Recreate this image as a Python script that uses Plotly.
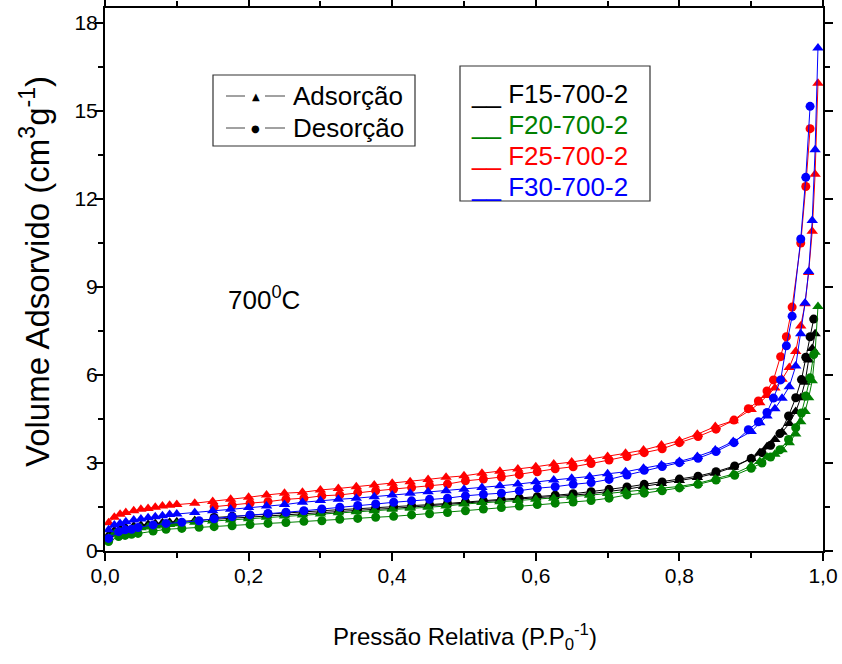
import plotly.graph_objects as go

# ---------------- data ----------------
ads_x = [0.005, 0.013, 0.021, 0.029, 0.04, 0.05, 0.06, 0.07, 0.08, 0.09, 0.1,
         0.125, 0.15, 0.175, 0.2, 0.225, 0.25, 0.275, 0.3, 0.325, 0.35,
         0.375, 0.4, 0.425, 0.45, 0.475, 0.5, 0.525, 0.55, 0.575, 0.6,
         0.625, 0.65, 0.675, 0.7, 0.725, 0.75, 0.775, 0.8, 0.825, 0.85, 0.875,
         0.9, 0.912, 0.922, 0.933, 0.943, 0.953, 0.962, 0.969, 0.975, 0.98, 0.985, 0.989, 0.993]

des_x_rb = [0.982, 0.976, 0.969, 0.957, 0.949, 0.941, 0.931, 0.922, 0.91, 0.896, 0.876, 0.851,
            0.826, 0.8, 0.776, 0.751, 0.727, 0.702, 0.677, 0.652, 0.627, 0.602, 0.577, 0.552,
            0.527, 0.502, 0.477, 0.452, 0.427, 0.402, 0.377, 0.352, 0.327, 0.302, 0.277, 0.252,
            0.227, 0.202, 0.177, 0.152, 0.131, 0.107, 0.085, 0.067, 0.046, 0.037, 0.028, 0.019, 0.005]

des_x_kg = [0.987, 0.982, 0.976, 0.97, 0.962, 0.952, 0.94, 0.927, 0.915, 0.9, 0.877, 0.851,
            0.826, 0.8, 0.776, 0.751, 0.727, 0.702, 0.677, 0.652, 0.627, 0.602, 0.577, 0.552,
            0.527, 0.502, 0.477, 0.452, 0.427, 0.402, 0.377, 0.352, 0.327, 0.302, 0.277, 0.252,
            0.227, 0.202, 0.177, 0.152, 0.131, 0.107, 0.085, 0.067, 0.046, 0.037, 0.028, 0.019, 0.005]

f15_ads = [0.55, 0.7, 0.76, 0.8, 0.85, 0.88, 0.91, 0.94, 0.96, 0.98, 1.0,
           1.04, 1.08, 1.12, 1.16, 1.2, 1.24, 1.28, 1.31, 1.35, 1.38,
           1.42, 1.45, 1.49, 1.53, 1.58, 1.63, 1.68, 1.72, 1.76, 1.81,
           1.86, 1.9, 1.95, 2.02, 2.1, 2.2, 2.3, 2.4, 2.5, 2.65, 2.85,
           3.15, 3.35, 3.55, 3.8, 4.05, 4.34, 4.75, 5.22, 5.75, 6.51, 6.9, 7.4]
f15_des = [7.9, 7.3, 6.6, 5.84, 5.22, 4.6, 4.0, 3.6, 3.35, 3.15, 2.9, 2.7,
           2.55, 2.45, 2.35, 2.27, 2.18, 2.1, 2.02, 1.95, 1.9, 1.85, 1.8, 1.75,
           1.71, 1.67, 1.62, 1.58, 1.54, 1.5, 1.47, 1.44, 1.41, 1.37, 1.34, 1.3,
           1.26, 1.22, 1.18, 1.14]

f20_ads = [0.45, 0.6, 0.66, 0.7, 0.75, 0.79, 0.82, 0.85, 0.88, 0.9, 0.93,
           0.98, 1.02, 1.06, 1.1, 1.15, 1.19, 1.23, 1.26, 1.3, 1.34,
           1.37, 1.42, 1.46, 1.49, 1.53, 1.6, 1.65, 1.68, 1.72, 1.76,
           1.8, 1.84, 1.9, 1.96, 2.02, 2.08, 2.13, 2.2, 2.3, 2.45, 2.62,
           2.9, 3.05, 3.2, 3.3, 3.45, 3.69, 3.99, 4.4, 4.75, 5.22, 5.8, 6.77, 8.33]
f20_des = [6.69, 5.9, 5.28, 4.7, 4.2, 3.8, 3.45, 3.2, 3.0, 2.82, 2.58, 2.42,
           2.27, 2.15, 2.05, 1.97, 1.91, 1.8, 1.72, 1.67, 1.63, 1.58, 1.53, 1.48,
           1.43, 1.37, 1.31, 1.27, 1.23, 1.18, 1.15, 1.11, 1.08, 1.03, 1.01, 0.97,
           0.94, 0.9, 0.86, 0.83, 0.81, 0.77, 0.74, 0.68, 0.6, 0.57, 0.53, 0.49, 0.32]

f25_ads = [0.96, 1.15, 1.25, 1.31, 1.37, 1.42, 1.45, 1.49, 1.53, 1.56, 1.58,
           1.63, 1.69, 1.76, 1.83, 1.91, 1.97, 2.0, 2.08, 2.13, 2.19,
           2.25, 2.31, 2.36, 2.44, 2.51, 2.56, 2.65, 2.72, 2.79, 2.87,
           2.96, 3.03, 3.13, 3.22, 3.33, 3.44, 3.61, 3.76, 3.98, 4.24, 4.44,
           4.82, 5.05, 5.3, 5.55, 5.85, 6.25, 6.8, 7.67, 8.42, 9.49, 10.89, 12.84, 15.94]
f25_des = [14.39, 12.42, 10.49, 8.31, 7.3, 6.62, 5.83, 5.45, 5.11, 4.85, 4.46, 4.15,
           3.9, 3.69, 3.48, 3.35, 3.22, 3.1, 2.98, 2.87, 2.8, 2.7, 2.6, 2.52,
           2.45, 2.39, 2.28, 2.23, 2.16, 2.11, 2.05, 1.99, 1.91, 1.88, 1.8, 1.76,
           1.68, 1.63, 1.56, 1.51]

f30_ads = [0.72, 0.89, 0.94, 1.0, 1.06, 1.09, 1.13, 1.17, 1.2, 1.24, 1.26,
           1.31, 1.37, 1.42, 1.48, 1.53, 1.58, 1.66, 1.72, 1.76, 1.8,
           1.85, 1.91, 1.97, 2.02, 2.05, 2.1, 2.16, 2.22, 2.28, 2.36,
           2.42, 2.48, 2.54, 2.63, 2.7, 2.82, 2.93, 3.05, 3.22, 3.44, 3.73,
           4.07, 4.37, 4.6, 4.85, 5.2, 5.6, 6.3, 7.4, 8.45, 9.52, 11.26, 13.67, 17.14]
f30_des = [15.15, 12.73, 10.63, 8.0, 6.99, 5.83, 5.21, 4.72, 4.4, 4.13, 3.69, 3.39,
           3.16, 3.01, 2.88, 2.75, 2.59, 2.44, 2.33, 2.27, 2.19, 2.14, 2.05, 1.97,
           1.93, 1.88, 1.8, 1.76, 1.71, 1.66, 1.6, 1.55, 1.49, 1.43, 1.37, 1.32,
           1.28, 1.23, 1.17, 1.1, 1.03, 0.98, 0.94, 0.89, 0.8, 0.74, 0.72, 0.66, 0.43]

series_names = ["F15-700-2", "F20-700-2", "F25-700-2", "F30-700-2"]
series_colors = ["#000000", "#008000", "#FF0000", "#0000FF"]
ads_values = [f15_ads, f20_ads, f25_ads, f30_ads]
des_xs = [des_x_kg, des_x_kg, des_x_rb, des_x_rb]
des_values = [f15_des, f20_des, f25_des, f30_des]

legend_ads = "Adsorção"
legend_des = "Desorção"
x_title = "Pressão Relativa (P.P<sub>0</sub><sup>-1</sup>)"
y_title = "Volume Adsorvido (cm<sup>3</sup>g<sup>-1</sup>)"
temp_label = "700<sup>0</sup>C"

# ---------------- figure ----------------
FONT = "Liberation Sans, Arial, sans-serif"
fig = go.Figure()

for name, color, ay, dx, dy in zip(series_names, series_colors, ads_values, des_xs, des_values):
    fig.add_trace(go.Scatter(
        x=ads_x[:len(ay)], y=ay, mode="lines+markers", name=name + " ads",
        line=dict(color=color, width=1),
        marker=dict(symbol="triangle-up", size=10, color=color, line=dict(width=0)),
        showlegend=False))
    fig.add_trace(go.Scatter(
        x=dx[:len(dy)], y=dy, mode="lines+markers", name=name + " des",
        line=dict(color=color, width=1),
        marker=dict(symbol="circle", size=9, color=color, line=dict(width=0)),
        showlegend=False))

# pixel helpers for layout placement
L, R, T, B = 105, 823, 8, 551
def px(xp):
    return (xp - L) / (R - L)
def py(yp):
    return (B - yp) / (B - T)

shapes = []
annotations = []

# legend box 1 (symbols)
shapes.append(dict(type="rect", xref="paper", yref="paper",
                   x0=px(213), x1=px(415), y0=py(146), y1=py(75),
                   line=dict(color="#333333", width=1.2), fillcolor="white", layer="above"))
for row_y, sym, label in [(96, "▲", legend_ads), (128, "●", legend_des)]:
    for xa, xb in [(226, 245), (265, 285)]:
        shapes.append(dict(type="line", xref="paper", yref="paper",
                           x0=px(xa), x1=px(xb), y0=py(row_y), y1=py(row_y),
                           line=dict(color="#444444", width=1)))
    annotations.append(dict(xref="paper", yref="paper", x=px(255.5), y=py(row_y),
                            text=sym, showarrow=False, xanchor="center", yanchor="middle",
                            font=dict(family="DejaVu Sans", size=10, color="black")))
    annotations.append(dict(xref="paper", yref="paper", x=px(291), y=py(row_y),
                            text=label, showarrow=False, xanchor="left", yanchor="middle",
                            font=dict(family=FONT, size=26, color="black")))

# legend box 2 (samples)
shapes.append(dict(type="rect", xref="paper", yref="paper",
                   x0=px(460), x1=px(650), y0=py(201), y1=py(66),
                   line=dict(color="#333333", width=1.2), fillcolor="white", layer="above"))
for i, (name, color) in enumerate(zip(series_names, series_colors)):
    annotations.append(dict(xref="paper", yref="paper", x=px(469), y=py(94 + 31 * i),
                            text="__ " + name, showarrow=False, xanchor="left", yanchor="middle",
                            font=dict(family=FONT, size=26, color=color)))

# temperature label
annotations.append(dict(xref="x", yref="y", x=0.222, y=8.6, text=temp_label, showarrow=False,
                        xanchor="center", yanchor="middle",
                        font=dict(family=FONT, size=26, color="black")))

# axis titles
annotations.append(dict(xref="paper", yref="paper", x=px(465), y=py(637), text=x_title,
                        showarrow=False, xanchor="center", yanchor="middle",
                        font=dict(family=FONT, size=24, color="black")))
annotations.append(dict(xref="paper", yref="paper", x=px(35), y=py(272), text=y_title,
                        showarrow=False, xanchor="center", yanchor="middle", textangle=-90,
                        font=dict(family=FONT, size=33, color="black")))

fig.update_layout(
    width=842, height=664,
    margin=dict(l=L, r=842 - R, t=T, b=664 - B, autoexpand=False),
    plot_bgcolor="white", paper_bgcolor="white",
    separators=",.",
    font=dict(family=FONT, size=21, color="black"),
    shapes=shapes, annotations=annotations,
    showlegend=False,
)
axis_common = dict(showline=True, linecolor="black", linewidth=2, mirror="allticks",
                   ticks="outside", ticklen=8, tickwidth=1.5, tickcolor="black",
                   showgrid=False, zeroline=False, automargin=False,
                   tickfont=dict(family=FONT, size=21, color="black"))
fig.update_xaxes(range=[0, 1], tick0=0, dtick=0.2, tickformat=".1f", ticklabelstandoff=-3,
                 minor=dict(dtick=0.1, ticks="outside", ticklen=5, tickwidth=1.5, tickcolor="black"),
                 **axis_common)
fig.update_yaxes(range=[0, 18.5], tick0=0, dtick=3, ticklabelstandoff=-7,
                 minor=dict(dtick=1.5, ticks="outside", ticklen=5, tickwidth=1.5, tickcolor="black"),
                 **axis_common)

fig.write_html("out.html")
